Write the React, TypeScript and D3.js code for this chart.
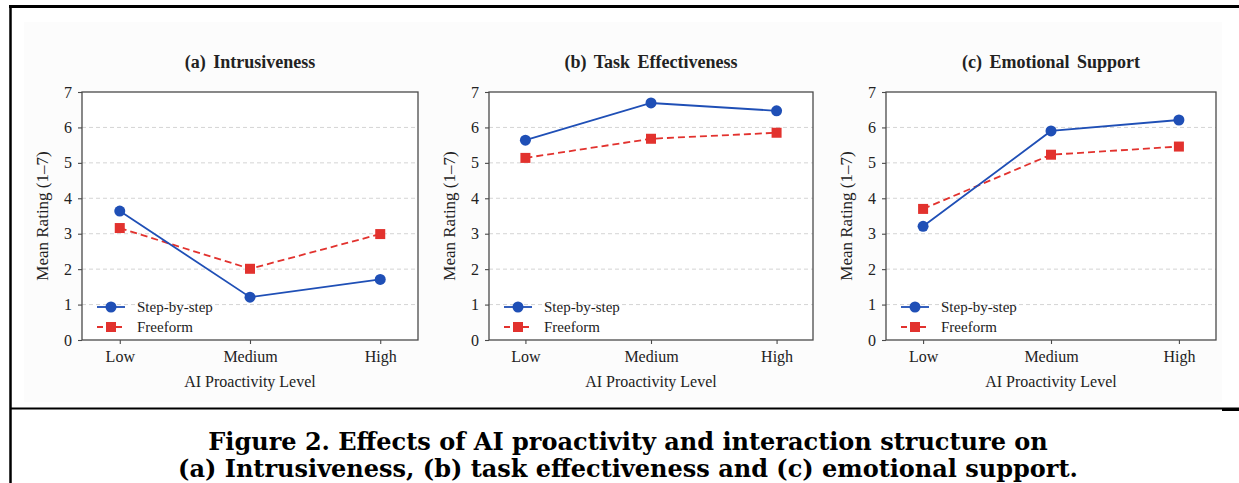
import * as d3 from 'd3';
import { useEffect, useRef } from 'react';

const WIDTH = 1239;
const HEIGHT = 483;

const levels = ['Low', 'Medium', 'High'];
const yTicks = [0, 1, 2, 3, 4, 5, 6, 7];
const gridTicks = [1, 2, 3, 4, 5, 6];
const seriesNames = ['Step-by-step', 'Freeform'];

const stepIntrusiveness = [3.64, 1.21, 1.71];
const freeIntrusiveness = [3.16, 2.01, 2.99];
const stepTaskEffectiveness = [5.64, 6.69, 6.47];
const freeTaskEffectiveness = [5.14, 5.68, 5.85];
const stepEmotionalSupport = [3.21, 5.9, 6.21];
const freeEmotionalSupport = [3.7, 5.23, 5.46];

const panelTitles = ['(a) Intrusiveness', '(b) Task Effectiveness', '(c) Emotional Support'];
const captionLines = [
  'Figure 2. Effects of AI proactivity and interaction structure on',
  '(a) Intrusiveness, (b) task effectiveness and (c) emotional support.',
];

const BLUE = '#1f4fb6';
const RED = '#e2322e';
const AXIS_COLOR = '#4a4a4a';
const TEXT_COLOR = '#222';
const SERIF = '"Liberation Serif", "Times New Roman", serif';

// plot-box edges in page pixels
const panelBoxes = [
  { left: 82, right: 418 },
  { left: 489, right: 813 },
  { left: 886, right: 1216 },
];
const PLOT_TOP = 92;
const PLOT_BOTTOM = 340;

export default function App() {
  const ref = useRef<SVGSVGElement>(null);

  useEffect(() => {
    const svg = d3.select(ref.current);
    svg.selectAll('*').remove();

    svg.append('rect')
      .attr('width', WIDTH)
      .attr('height', HEIGHT)
      .attr('fill', '#fff');

    // faint backdrop of the figure image
    svg.append('rect')
      .attr('x', 24)
      .attr('y', 22)
      .attr('width', 1198)
      .attr('height', 380)
      .attr('fill', '#fcfcfc');

    // page rules
    svg.append('line')
      .attr('x1', 9).attr('x2', WIDTH)
      .attr('y1', 6.5).attr('y2', 6.5)
      .attr('stroke', '#000').attr('stroke-width', 3);
    svg.append('line')
      .attr('x1', 10.5).attr('x2', 10.5)
      .attr('y1', 5).attr('y2', HEIGHT)
      .attr('stroke', '#000').attr('stroke-width', 2.5);
    svg.append('line')
      .attr('x1', 10).attr('x2', WIDTH)
      .attr('y1', 408.5).attr('y2', 408.5)
      .attr('stroke', '#000').attr('stroke-width', 2);
    svg.append('line')
      .attr('x1', 1222).attr('x2', WIDTH)
      .attr('y1', 409.5).attr('y2', 409.5)
      .attr('stroke', '#000').attr('stroke-width', 3);

    const panelData = [
      [stepIntrusiveness, freeIntrusiveness],
      [stepTaskEffectiveness, freeTaskEffectiveness],
      [stepEmotionalSupport, freeEmotionalSupport],
    ];

    const y = d3.scaleLinear().domain([0, 7]).range([PLOT_BOTTOM, PLOT_TOP]);

    panelBoxes.forEach((box, i) => {
      const x = d3.scalePoint<string>()
        .domain(levels)
        .range([box.left, box.right])
        .padding(0.29);
      const g = svg.append('g');
      const midX = (box.left + box.right) / 2;

      g.append('rect')
        .attr('x', box.left)
        .attr('y', PLOT_TOP)
        .attr('width', box.right - box.left)
        .attr('height', PLOT_BOTTOM - PLOT_TOP)
        .attr('fill', '#fff');

      g.selectAll('line.grid')
        .data(gridTicks)
        .enter()
        .append('line')
        .attr('class', 'grid')
        .attr('x1', box.left)
        .attr('x2', box.right)
        .attr('y1', (d) => y(d))
        .attr('y2', (d) => y(d))
        .attr('stroke', '#cfcfcf')
        .attr('stroke-width', 0.9)
        .attr('stroke-dasharray', '4,3');

      const yAxis = g.append('g')
        .attr('transform', `translate(${box.left},0)`)
        .call(d3.axisLeft(y).tickValues(yTicks).tickFormat(d3.format('d')).tickSize(4).tickPadding(6));
      const xAxis = g.append('g')
        .attr('transform', `translate(0,${PLOT_BOTTOM})`)
        .call(d3.axisBottom(x).tickSize(4).tickPadding(7));
      [yAxis, xAxis].forEach((axis) => {
        axis.select('.domain').remove();
        axis.selectAll('line').attr('stroke', AXIS_COLOR).attr('stroke-width', 1.1);
        axis.selectAll('text')
          .attr('fill', TEXT_COLOR)
          .style('font-family', SERIF)
          .style('font-size', '16px');
      });

      g.append('rect')
        .attr('x', box.left)
        .attr('y', PLOT_TOP)
        .attr('width', box.right - box.left)
        .attr('height', PLOT_BOTTOM - PLOT_TOP)
        .attr('fill', 'none')
        .attr('stroke', AXIS_COLOR)
        .attr('stroke-width', 1.3);

      const line = d3.line<number>()
        .x((_, j) => x(levels[j]) as number)
        .y((d) => y(d));

      const [stepValues, freeValues] = panelData[i];

      g.append('path')
        .attr('d', line(freeValues))
        .attr('fill', 'none')
        .attr('stroke', RED)
        .attr('stroke-width', 1.8)
        .attr('stroke-dasharray', '7,4');
      g.selectAll('rect.free')
        .data(freeValues)
        .enter()
        .append('rect')
        .attr('class', 'free')
        .attr('x', (d, j) => (x(levels[j]) as number) - 5)
        .attr('y', (d) => y(d) - 5)
        .attr('width', 10)
        .attr('height', 10)
        .attr('fill', RED);

      g.append('path')
        .attr('d', line(stepValues))
        .attr('fill', 'none')
        .attr('stroke', BLUE)
        .attr('stroke-width', 1.8);
      g.selectAll('circle.step')
        .data(stepValues)
        .enter()
        .append('circle')
        .attr('class', 'step')
        .attr('cx', (d, j) => x(levels[j]) as number)
        .attr('cy', (d) => y(d))
        .attr('r', 5.5)
        .attr('fill', BLUE);

      // legend
      const legend = g.append('g').attr('transform', `translate(${box.left},${PLOT_BOTTOM})`);
      seriesNames.forEach((name, k) => {
        const ly = k === 0 ? -33 : -13;
        const color = k === 0 ? BLUE : RED;
        legend.append('line')
          .attr('x1', 15).attr('x2', 43)
          .attr('y1', ly).attr('y2', ly)
          .attr('stroke', color)
          .attr('stroke-width', 1.8)
          .attr('stroke-dasharray', k === 0 ? null : '6,3.5');
        if (k === 0) {
          legend.append('circle').attr('cx', 29).attr('cy', ly).attr('r', 5.5).attr('fill', color);
        } else {
          legend.append('rect').attr('x', 24).attr('y', ly - 5).attr('width', 10).attr('height', 10).attr('fill', color);
        }
        legend.append('text')
          .attr('x', 55)
          .attr('y', ly)
          .attr('dy', '0.35em')
          .attr('fill', TEXT_COLOR)
          .style('font-family', SERIF)
          .style('font-size', '15px')
          .text(name);
      });

      g.append('text')
        .attr('x', midX)
        .attr('y', 68)
        .attr('text-anchor', 'middle')
        .attr('fill', TEXT_COLOR)
        .style('font-family', SERIF)
        .style('font-size', '18px')
        .style('font-weight', 700)
        .style('word-spacing', '3px')
        .text(panelTitles[i]);

      g.append('text')
        .attr('x', midX)
        .attr('y', 387)
        .attr('text-anchor', 'middle')
        .attr('fill', TEXT_COLOR)
        .style('font-family', SERIF)
        .style('font-size', '16px')
        .text('AI Proactivity Level');

      g.append('text')
        .attr('transform', `translate(${box.left - 40},${(PLOT_TOP + PLOT_BOTTOM) / 2}) rotate(-90)`)
        .attr('text-anchor', 'middle')
        .attr('dy', '0.35em')
        .attr('fill', TEXT_COLOR)
        .style('font-family', SERIF)
        .style('font-size', '17px')
        .text('Mean Rating (1–7)');
    });

    captionLines.forEach((lineText, k) => {
      svg.append('text')
        .attr('x', 628)
        .attr('y', k === 0 ? 450 : 477)
        .attr('text-anchor', 'middle')
        .attr('fill', '#000')
        .style('font-family', '"DejaVu Serif", serif')
        .style('font-size', '24px')
        .style('font-weight', 700)
        .text(lineText);
    });
  }, []);

  return (
    <svg
      ref={ref}
      width={WIDTH}
      height={HEIGHT}
      style={{ position: 'absolute', left: 0, top: 0, display: 'block' }}
    />
  );
}
